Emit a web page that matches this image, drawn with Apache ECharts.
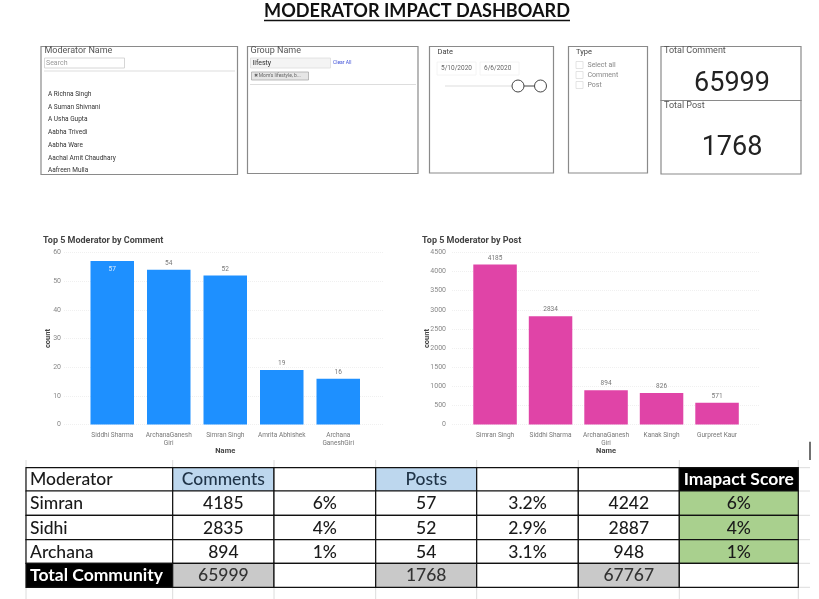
<!DOCTYPE html>
<html>
	<head>
		<meta charset="utf-8">
		<title>Moderator Impact Dashboard</title>
		<script src="https://cdn.jsdelivr.net/npm/echarts@6/dist/echarts.min.js"></script>
		<style>
			html, body { margin: 0; padding: 0; background: #fff; }
			#main { width: 819px; height: 599px; }
		</style>
	</head>

	<body>
		<div id="main"></div>
		<script type="text/javascript">
			// chart data
			var commentNames = ['Siddhi Sharma', 'ArchanaGanesh\nGiri', 'Simran Singh', 'Amrita Abhishek', 'Archana\nGaneshGiri'];
			var commentValues = [57, 54, 52, 19, 16];
			var postNames = ['Simran Singh', 'Siddhi Sharma', 'ArchanaGanesh\nGiri', 'Kanak Singh', 'Gurpreet Kaur'];
			var postValues = [4185, 2834, 894, 826, 571];

			// slicers and cards
			var moderatorList = ['A Richna Singh', 'A Suman Shivnani', 'A Usha Gupta', 'Aabha Trivedi', 'Aabha Ware', 'Aachal Amit Chaudhary', 'Aafreen Mulla'];
			var typeList = ['Select all', 'Comment', 'Post'];
			var dateRange = ['5/10/2020', '6/6/2020'];
			var totalComment = '65999';
			var totalPost = '1768';

			// table under the charts
			var tableHeader = ['Moderator', 'Comments', '', 'Posts', '', '', 'Imapact Score'];
			var tableBody = [
				['Simran', '4185', '6%', '57', '3.2%', '4242', '6%'],
				['Sidhi', '2835', '4%', '52', '2.9%', '2887', '4%'],
				['Archana', '894', '1%', '54', '3.1%', '948', '1%']
			];
			var tableTotal = ['Total Community', '65999', '', '1768', '', '67767', ''];

			var colX = [26, 172.7, 274, 375.7, 476.7, 578.3, 679.3, 798.3];
			var rowY = [467.7, 491, 515.3, 539.7, 563.3, 587.3];

			var uiFont = 'Roboto, sans-serif';
			var tableFont = 'Lato, sans-serif';
			var g = [];

			function rect(x, y, w, h, fill, stroke, lw) {
				g.push({ type: 'rect', silent: true, shape: { x: x, y: y, width: w, height: h },
					style: { fill: fill || 'transparent', stroke: stroke || null, lineWidth: lw || 1 } });
			}
			function line(x1, y1, x2, y2, stroke, lw) {
				g.push({ type: 'line', silent: true, shape: { x1: x1, y1: y1, x2: x2, y2: y2 },
					style: { stroke: stroke, lineWidth: lw || 1 } });
			}
			function text(x, y, s, font, fill, align) {
				g.push({ type: 'text', silent: true, x: x, y: y,
					style: { text: s, font: font, fill: fill, align: align || 'left', verticalAlign: 'middle' } });
			}

			// page title
			text(417, 11, 'MODERATOR IMPACT DASHBOARD', 'bold 18.1px ' + tableFont, '#111', 'center');
			line(264, 20.5, 570, 20.5, '#111', 1.6);

			// moderator slicer
			moderatorList.forEach(function (name, i) {
				text(48, 94.3 + i * 12.75, name, '6.5px ' + uiFont, '#333');
			});
			rect(38, 175, 202, 5, '#fff');
			rect(41, 46.5, 196.5, 128, null, '#8a8a8a', 1.2);
			text(44.5, 50.5, 'Moderator Name', '9px ' + uiFont, '#555');
			rect(44.5, 58, 80, 10, '#fff', '#ccc', 0.8);
			text(46, 63, 'Search', '7px ' + uiFont, '#999');
			line(44, 71, 235, 71, '#ddd', 1);

			// group slicer
			rect(247.5, 46.5, 170.5, 127, null, '#8a8a8a', 1.2);
			text(250.5, 50.5, 'Group Name', '9px ' + uiFont, '#555');
			rect(250.5, 58, 80, 10, '#f4f4f4', '#ddd', 0.8);
			text(252.5, 63, 'lifesty', '7px ' + uiFont, '#333');
			text(333, 62.8, 'Clear All', '5px ' + uiFont, '#3f51d8');
			rect(251.5, 72, 57, 8, '#e6e6e6', '#aaa', 0.8);
			text(253.5, 76, '✖ Mom\'s lifestyle, b...', '5px ' + uiFont, '#666');
			line(250, 84.5, 416, 84.5, '#ddd', 1);

			// date slicer
			rect(429.5, 46.5, 124, 126.5, null, '#8a8a8a', 1.2);
			text(437.5, 52.5, 'Date', '7.5px ' + uiFont, '#444');
			rect(437, 62, 39, 13, '#fff', '#f1f1f1', 0.8);
			rect(480, 62, 39, 13, '#fff', '#f1f1f1', 0.8);
			text(441, 68.7, dateRange[0], '6.5px ' + uiFont, '#666');
			text(484, 68.7, dateRange[1], '6.5px ' + uiFont, '#666');
			line(445, 86, 513, 86, '#ddd', 1);
			line(524, 86, 534.5, 86, '#444', 1);
			[518, 540.5].forEach(function (cx) {
				g.push({ type: 'circle', silent: true, shape: { cx: cx, cy: 86, r: 6 },
					style: { fill: '#fff', stroke: '#444', lineWidth: 1 } });
			});

			// type slicer
			rect(568.5, 46.5, 79, 126.5, null, '#8a8a8a', 1.2);
			text(576, 52.5, 'Type', '7.5px ' + uiFont, '#444');
			typeList.forEach(function (name, i) {
				rect(576, 61.5 + i * 10, 7, 7, '#fff', '#ddd', 0.8);
				text(587.5, 65 + i * 10, name, '7px ' + uiFont, '#888');
			});

			// cards
			rect(661, 46.5, 140, 54, null, '#8a8a8a', 1.2);
			rect(661, 100.5, 140, 73.5, null, '#8a8a8a', 1.2);
			text(664, 50.5, 'Total Comment', '9px ' + uiFont, '#555');
			text(664, 105.5, 'Total Post', '9px ' + uiFont, '#555');
			text(732, 84, totalComment, '27px ' + uiFont, '#222', 'center');
			text(732, 148, totalPost, '27px ' + uiFont, '#222', 'center');

			// table: sheet lines first, then filled cells, then text
			var sheetLine = '#dcdcdc';
			colX.forEach(function (x) { line(x, 460, x, 599, sheetLine, 1); });
			rowY.forEach(function (y) { line(798, y, 810, y, sheetLine, 1); });
			line(810, 441.7, 810, 460, '#111', 1.2);

			var rows = [tableHeader].concat(tableBody, [tableTotal]);
			rows.forEach(function (row, r) {
				row.forEach(function (cell, c) {
					var x = colX[c], y = rowY[r], w = colX[c + 1] - x, h = rowY[r + 1] - y;
					var fill = '#fff', color = '#1a1a1a', bold = '500 ';
					if (r === 0 && (c === 1 || c === 3)) { fill = '#bdd7ee'; color = '#1f3347'; }
					if (r === 0 && c === 6) { fill = '#000'; color = '#fff'; bold = 'bold '; }
					if (r > 0 && r < 4 && c === 6) { fill = '#a9d08e'; }
					if (r === 4 && c === 0) { fill = '#000'; color = '#fff'; bold = 'bold '; }
					if (r === 4 && (c === 1 || c === 3 || c === 5)) { fill = '#c9c9c9'; color = '#333'; }
					rect(x, y, w, h, fill, '#111', 1.2);
					if (cell) {
						var left = c === 0;
						text(left ? x + 4 : x + w / 2, y + h / 2 + 0.5, cell, bold + '17.5px ' + tableFont, color, left ? 'left' : 'center');
					}
				});
			});

			var gridTop = 252.5, gridHeight = 172;

			// y axis and long grid lines sit on a wider grid than the bars
			function valueAxis(gridIndex, max, interval, gap, margin) {
				return {
					type: 'value', gridIndex: gridIndex, min: 0, max: max, interval: interval,
					name: 'count', nameLocation: 'middle', nameGap: gap, nameMoveOverlap: false,
					nameTextStyle: { fontFamily: uiFont, fontSize: 7.5, fontWeight: 'bold', color: '#444' },
					axisLine: { show: false }, axisTick: { show: false },
					axisLabel: { fontFamily: uiFont, fontSize: 7, color: '#888', margin: margin, formatter: function (v) { return String(v); } },
					splitLine: { lineStyle: { color: '#f0f0f0', type: 'dotted', width: 1 } }
				};
			}
			function hiddenValueAxis(gridIndex, max) {
				return { type: 'value', gridIndex: gridIndex, min: 0, max: max, show: false };
			}
			function nameAxis(gridIndex, names) {
				return {
					type: 'category', gridIndex: gridIndex, data: names,
					name: 'Name', nameLocation: 'middle', nameGap: 23, nameMoveOverlap: false,
					nameTextStyle: { fontFamily: uiFont, fontSize: 7.5, fontWeight: 'bold', color: '#444' },
					axisLine: { show: false }, axisTick: { show: false },
					axisLabel: { interval: 0, fontFamily: uiFont, fontSize: 6.5, color: '#777', margin: 7, lineHeight: 8 }
				};
			}
			function barSeries(gridIndex, values, color, insideFirst) {
				return {
					type: 'bar', xAxisIndex: gridIndex, yAxisIndex: gridIndex, barWidth: 43.5,
					itemStyle: { color: color },
					label: { show: true, position: 'top', distance: 3, fontFamily: uiFont, fontSize: 6.5, color: '#777' },
					data: values.map(function (v, i) {
						if (insideFirst && i === 0) {
							return { value: v, label: { position: 'insideTop', distance: 5, color: '#d8ecff' } };
						}
						return v;
					})
				};
			}
			function chartTitle(s, left) {
				return { text: s, left: left, top: 236, padding: 0, textStyle: { fontFamily: uiFont, fontSize: 9, fontWeight: 'bold', color: '#444' } };
			}

			var myChart = echarts.init(document.getElementById('main'));
			var option = {
				animation: false,
				backgroundColor: '#fff',
				title: [
					chartTitle('Top 5 Moderator by Comment', 43),
					chartTitle('Top 5 Moderator by Post', 422)
				],
				grid: [
					{ left: 84, top: gridTop, width: 282.5, height: gridHeight },
					{ left: 467.3, top: gridTop, width: 277.5, height: gridHeight },
					{ left: 64, top: gridTop, width: 319, height: gridHeight },
					{ left: 452, top: gridTop, width: 308, height: gridHeight }
				],
				xAxis: [
					nameAxis(0, commentNames),
					nameAxis(1, postNames),
					{ type: 'category', gridIndex: 2, show: false, data: commentNames },
					{ type: 'category', gridIndex: 3, show: false, data: postNames }
				],
				yAxis: [
					hiddenValueAxis(0, 60),
					hiddenValueAxis(1, 4500),
					valueAxis(2, 60, 10, 12, 3),
					valueAxis(3, 4500, 500, 21, 6)
				],
				series: [
					barSeries(0, commentValues, '#1e90ff', true),
					barSeries(1, postValues, '#e044a7', false)
				],
				graphic: g
			};
			myChart.setOption(option);
		</script>
	</body>
</html>
